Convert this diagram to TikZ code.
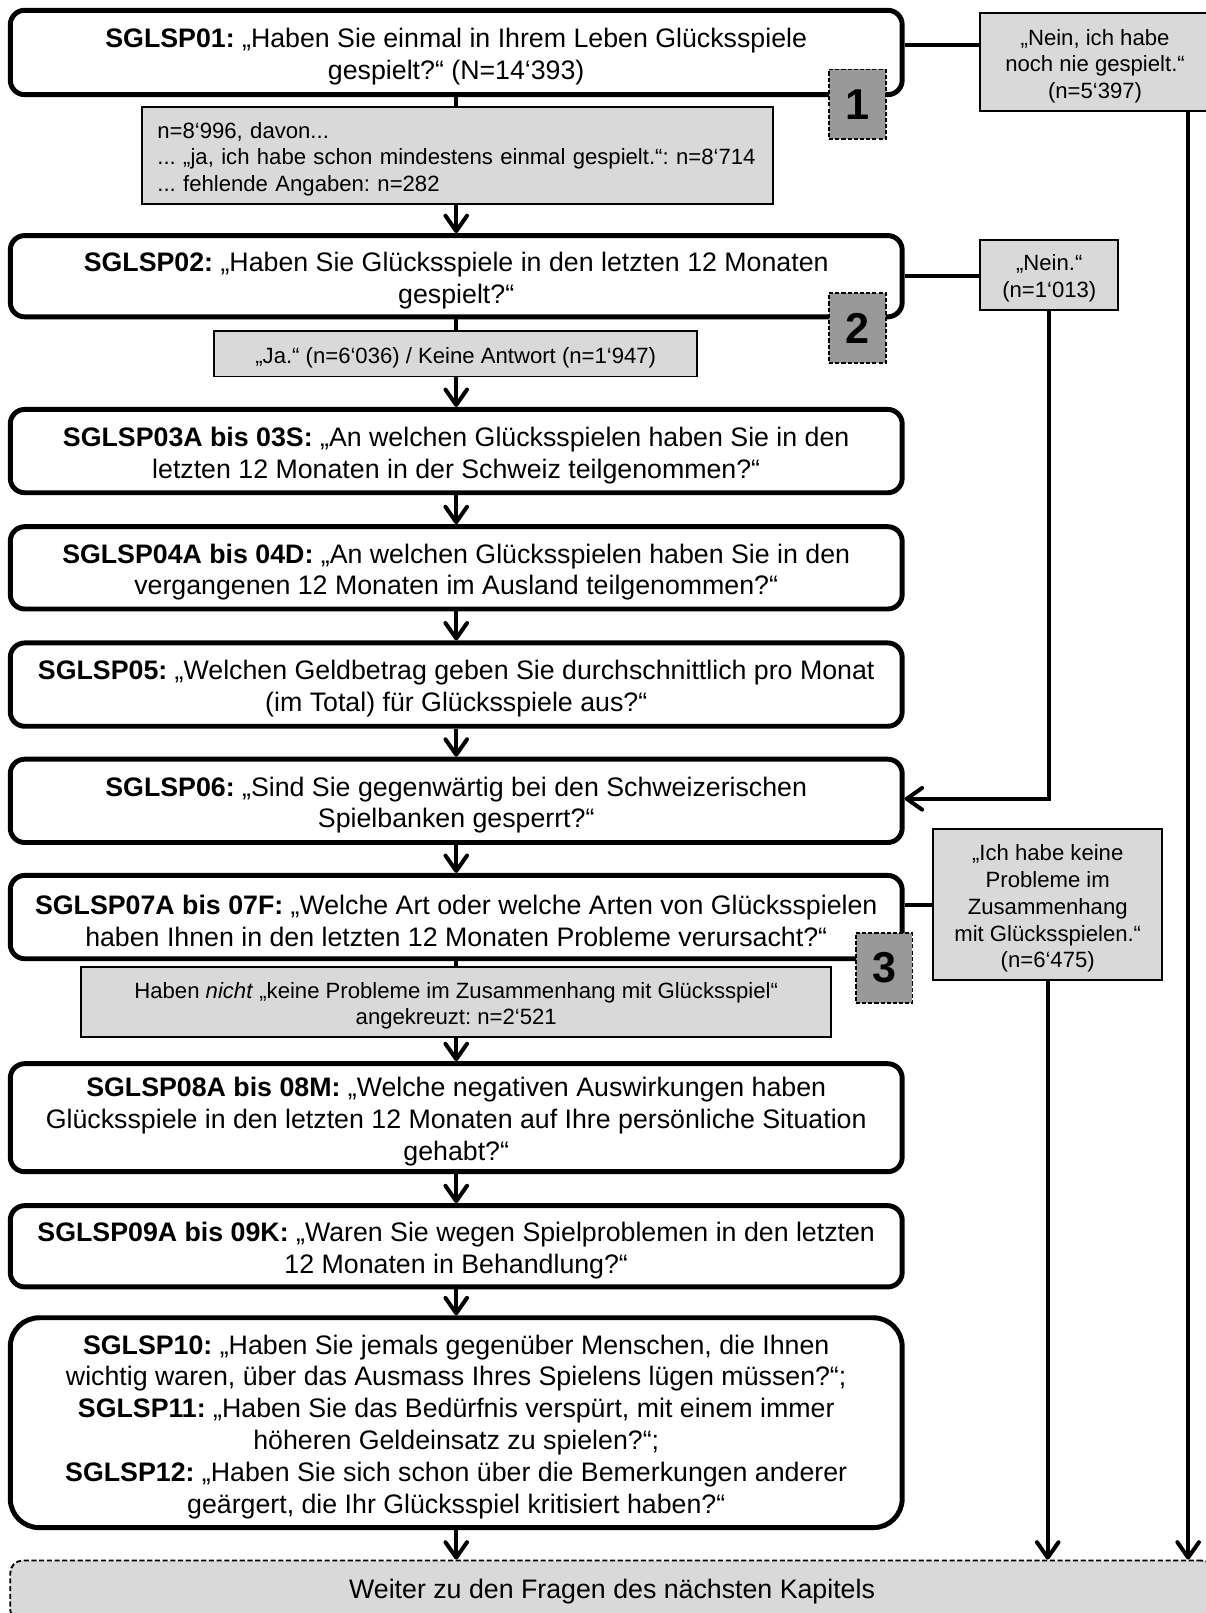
\documentclass[tikz,border=0pt]{standalone}
\usepackage{fontspec}
\setmainfont{Liberation Sans}
\usetikzlibrary{arrows.meta}
\frenchspacing
\newcommand\mstrut{\rule{0pt}{27pt}}
\newcommand\gstrut{\rule{0pt}{23pt}}
\tikzset{
  mainbox/.style={draw, line width=4.8pt, rounded corners=14pt, fill=white, minimum width=867pt, align=center, inner sep=0pt, font=\fontsize{26}{31}\selectfont},
  graybox/.style={draw, line width=1.9pt, fill=gray!30, inner sep=0pt, align=center, font=\fontsize{21.5}{26}\selectfont, execute at begin node={\gstrut}},
  badge/.style={draw, dash pattern=on 4pt off 2pt, line width=1.8pt, fill=black!40, minimum width=55pt, minimum height=68pt, inner sep=0pt, font=\fontsize{42}{42}\selectfont\bfseries},
  endbox/.style={draw, dash pattern=on 5pt off 2.5pt, line width=1.8pt, rounded corners=12pt, fill=gray!30, inner sep=0pt, font=\fontsize{26}{30}\selectfont},
  conn/.style={line width=3.9pt},
  arr/.style={line width=3.9pt, -{Straight Barb[length=15pt,width=21pt,line width=3.9pt,round]}},
}
\begin{document}
\begin{tikzpicture}[x=1pt, y=-1pt]
\useasboundingbox (0,0) rectangle (1172,1568);
% main boxes
\node[mainbox, minimum height=82pt] (b1) at (443.5,51) {\mstrut\textbf{SGLSP01:} „Haben Sie einmal in Ihrem Leben Glücksspiele\\gespielt?“ (N=14‘393)};
\node[mainbox, minimum height=79pt] (b2) at (443.5,268.5) {\mstrut\textbf{SGLSP02:} „Haben Sie Glücksspiele in den letzten 12 Monaten\\gespielt?“};
\node[mainbox, minimum height=81pt] (b3) at (443.5,438.5) {\mstrut\textbf{SGLSP03A bis 03S:} „An welchen Glücksspielen haben Sie in den\\letzten 12 Monaten in der Schweiz teilgenommen?“};
\node[mainbox, minimum height=80pt] (b4) at (443.5,552) {\mstrut\textbf{SGLSP04A bis 04D:} „An welchen Glücksspielen haben Sie in den\\vergangenen 12 Monaten im Ausland teilgenommen?“};
\node[mainbox, minimum height=81pt] (b5) at (443.5,665.5) {\mstrut\textbf{SGLSP05:} „Welchen Geldbetrag geben Sie durchschnittlich pro Monat\\(im Total) für Glücksspiele aus?“};
\node[mainbox, minimum height=81pt] (b6) at (443.5,778.5) {\mstrut\textbf{SGLSP06:} „Sind Sie gegenwärtig bei den Schweizerischen\\Spielbanken gesperrt?“};
\node[mainbox, minimum height=81pt] (b7) at (443.5,891.5) {\mstrut\textbf{SGLSP07A bis 07F:} „Welche Art oder welche Arten von Glücksspielen\\haben Ihnen in den letzten 12 Monaten Probleme verursacht?“};
\node[mainbox, minimum height=105pt] (b8) at (443.5,1086.5) {\mstrut\textbf{SGLSP08A bis 08M:} „Welche negativen Auswirkungen haben\\Glücksspiele in den letzten 12 Monaten auf Ihre persönliche Situation\\gehabt?“};
\node[mainbox, minimum height=79pt] (b9) at (443.5,1211.5) {\mstrut\textbf{SGLSP09A bis 09K:} „Waren Sie wegen Spielproblemen in den letzten\\12 Monaten in Behandlung?“};
\node[mainbox, minimum height=204pt, rounded corners=28pt] (b10) at (443.5,1383) {\mstrut\textbf{SGLSP10:} „Haben Sie jemals gegenüber Menschen, die Ihnen\\wichtig waren, über das Ausmass Ihres Spielens lügen müssen?“;\\\textbf{SGLSP11:} „Haben Sie das Bedürfnis verspürt, mit einem immer\\höheren Geldeinsatz zu spielen?“;\\\textbf{SGLSP12:} „Haben Sie sich schon über die Bemerkungen anderer\\geärgert, die Ihr Glücksspiel kritisiert haben?“};
\node[endbox, minimum width=1170pt, minimum height=60pt] (end) at (595,1547) {Weiter zu den Fragen des nächsten Kapitels};
% right boxes
\node[graybox, minimum width=223pt, minimum height=95pt] (r1) at (1064.5,60.5) {\gstrut„Nein, ich habe\\noch nie gespielt.“\\(n=5‘397)};
\node[graybox, minimum width=134pt, minimum height=68pt] (r2) at (1020,267) {\gstrut„Nein.“\\(n=1‘013)};
\node[graybox, minimum width=223pt, minimum height=147pt] (r3) at (1018.5,879.5) {\gstrut„Ich habe keine\\Probleme im\\Zusammenhang\\mit Glücksspielen.“\\(n=6‘475)};
\coordinate (r1x) at (1155,0);
% connectors
\draw[arr] (b1.south) -- (b2.north);
\draw[arr] (b2.south) -- (b3.north);
\draw[arr] (b3.south) -- (b4.north);
\draw[arr] (b4.south) -- (b5.north);
\draw[arr] (b5.south) -- (b6.north);
\draw[arr] (b6.south) -- (b7.north);
\draw[arr] (b7.south) -- (b8.north);
\draw[arr] (b8.south) -- (b9.north);
\draw[arr] (b9.south) -- (b10.north);
\draw[arr] (b10.south) -- (b10.south |- end.north);
\draw[conn] ([yshift=7pt]b1.east) -- ([yshift=7pt]b1.east -| r1.west);
\draw[conn] (b2.east) -- (b2.east -| r2.west);
\draw[conn] (r3.west) -- (r3.west -| b7.east);
\draw[arr] (r1.south -| r1x) -- (end.north -| r1x);
\draw[arr] (r2.south) -- ([yshift=2pt]r2.south |- b6.east) -- ([yshift=2pt]b6.east);
\draw[arr] (r3.south) -- (r3.south |- end.north);
% gray boxes on the main line
\node[graybox, minimum width=613pt, minimum height=94pt, text width=583pt, align=left] (ga) at (444.5,151) {n=8‘996, davon...\\... „ja, ich habe schon mindestens einmal gespielt.“: n=8‘714\\... fehlende Angaben: n=282};
\node[graybox, minimum width=470pt, minimum height=44pt] (gb) at (443,344) {„Ja.“ (n=6‘036) / Keine Antwort (n=1‘947)};
\node[graybox, minimum width=729pt, minimum height=68pt] (gc) at (443.5,974) {\gstrut Haben \textit{nicht} „keine Probleme im Zusammenhang mit Glücksspiel“\\angekreuzt: n=2‘521};
% badges
\node[badge] (n1) at (833.5,101.5) {1};
\node[badge] (n2) at (833.5,319) {2};
\node[badge] (n3) at (859.5,941) {3};
\end{tikzpicture}
\end{document}
